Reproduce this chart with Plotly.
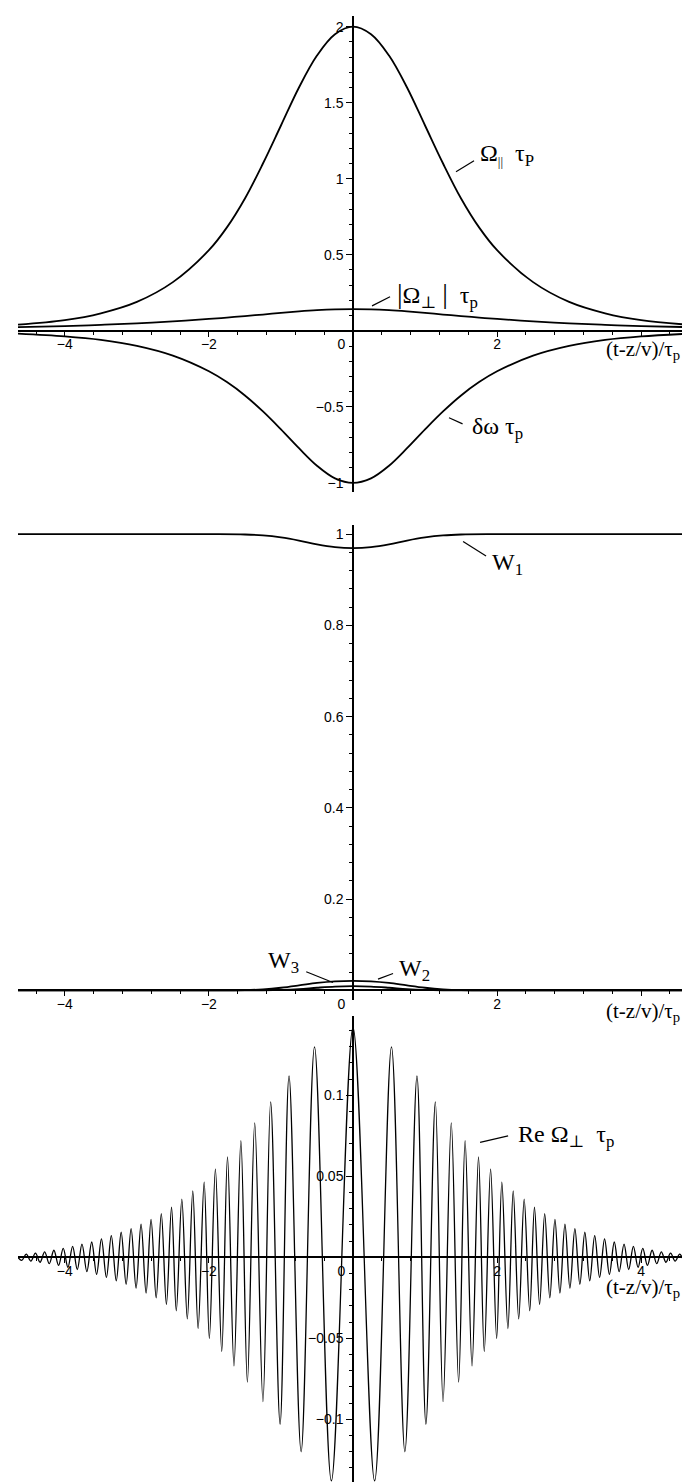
import plotly.graph_objects as go

# ---------------- data (curves are even in t) ----------------
# Panel 1: sampled values for t >= 0
t1 = [0.0, 0.25, 0.5, 0.75, 1.0, 1.25, 1.5, 1.75, 2.0, 2.5, 3.0, 3.5, 4.0, 4.65]
omega_par = [2.0, 1.95, 1.81, 1.60, 1.35, 1.10, 0.87, 0.68, 0.53, 0.32, 0.19, 0.115, 0.07, 0.04]
omega_perp_abs = [0.142, 0.141, 0.136, 0.128, 0.118, 0.107, 0.097, 0.087, 0.078, 0.062, 0.049, 0.039, 0.031, 0.024]
delta_omega = [-1.0, -0.97, -0.887, -0.772, -0.648, -0.53, -0.425, -0.337, -0.266, -0.163, -0.099, -0.060, -0.037, -0.019]

# Panel 2: occupation probabilities, t >= 0
t2 = [0.0, 0.25, 0.5, 0.75, 1.0, 1.25, 1.5, 2.0, 3.0, 4.65]
w1 = [0.9695, 0.9715, 0.9775, 0.986, 0.9928, 0.9972, 0.9992, 0.9999, 1.0, 1.0]
w2 = [0.021, 0.020, 0.0165, 0.011, 0.006, 0.0025, 0.0008, 0.0001, 0.0, 0.0]
w3 = [0.0095, 0.0085, 0.006, 0.003, 0.0012, 0.0003, 0.0, 0.0, 0.0, 0.0]

# Panel 3: Re(Omega_perp) tau_p, alternating maxima / minima for t >= 0
re_t = [0.000, 0.300, 0.534, 0.720, 0.888, 1.012, 1.143, 1.250, 1.364, 1.466,
        1.556, 1.652, 1.742, 1.822, 1.910, 1.994, 2.066, 2.150, 2.224, 2.300,
        2.376, 2.453, 2.519, 2.590, 2.661, 2.732, 2.803, 2.872, 2.942, 3.011,
        3.080, 3.149, 3.218, 3.286, 3.355, 3.423, 3.492, 3.559, 3.627, 3.694,
        3.762, 3.827, 3.892, 3.957, 4.022, 4.087, 4.152, 4.216, 4.280, 4.344,
        4.408, 4.471, 4.535, 4.598, 4.650]
re_v = [0.142, -0.138, 0.130, -0.120, 0.112, -0.103, 0.096, -0.089, 0.083, -0.077,
        0.072, -0.067, 0.062, -0.058, 0.0545, -0.050, 0.0465, -0.044, 0.041, -0.038,
        0.036, -0.033, 0.031, -0.029, 0.027, -0.025, 0.0235, -0.022, 0.0205, -0.019,
        0.0177, -0.0166, 0.0155, -0.0145, 0.0134, -0.0124, 0.0114, -0.0105, 0.0095, -0.0088,
        0.0082, -0.0075, 0.0068, -0.0061, 0.0055, -0.005, 0.0044, -0.0039, 0.0034, -0.003,
        0.0026, -0.0023, 0.002, -0.0018, 0.0]

x_ticks = [-4, -2, 0, 2, 4]
x_title = "(t-z/v)/τ<sub>p</sub>"


def mirror(t, v):
    """Even function: reflect the t >= 0 samples to t < 0."""
    tt = [-a for a in reversed(t[1:])] + list(t)
    vv = list(reversed(v[1:])) + list(v)
    return tt, vv


# ---------------- layout geometry ----------------
W, H = 690, 1482
XR = [-4.65, 4.65]
XDOM = [10 / W, 680 / W]
panels = [
    dict(yr=[-1.06, 2.07], top=8, bottom=484, title_off=19,
         yt=[-1, -0.5, 0.5, 1, 1.5, 2], ytt=["−1", "−0.5", "0.5", "1", "1.5", "2"], ydt=0.1,
         xtt=["−4", "−2", "0\u2007\u2007\u2007", "2", ""]),
    dict(yr=[-0.02, 1.02], top=517, bottom=991.6, title_off=22,
         yt=[0.2, 0.4, 0.6, 0.8, 1], ytt=["0.2", "0.4", "0.6", "0.8", "1"], ydt=0.04,
         xtt=["−4", "−2", "0\u2007\u2007\u2007", "2", ""]),
    dict(yr=[-0.1436, 0.149], top=1008, bottom=1482, title_off=31,
         yt=[-0.1, -0.05, 0.05, 0.1], ytt=["−0.1", "−0.05", "0.05", "0.1"], ydt=0.01,
         xtt=["−4", "−2", "0\u2007\u2007\u2007", "2", "4"]),
]

fig = go.Figure()
LINE = dict(color="black", width=1.8)

# panel 1 traces
for vals in (omega_par, omega_perp_abs, delta_omega):
    tt, vv = mirror(t1, vals)
    fig.add_trace(go.Scatter(x=tt, y=vv, mode="lines", line=dict(shape="spline", **LINE),
                             xaxis="x", yaxis="y", hoverinfo="skip"))
# panel 2 traces
for vals in (w1, w2, w3):
    tt, vv = mirror(t2, vals)
    fig.add_trace(go.Scatter(x=tt, y=vv, mode="lines", line=dict(shape="spline", **LINE),
                             xaxis="x2", yaxis="y2", hoverinfo="skip"))
# panel 3 trace
tt, vv = mirror(re_t, re_v)
fig.add_trace(go.Scatter(x=tt, y=vv, mode="lines",
                         line=dict(shape="spline", color="black", width=1.3),
                         xaxis="x3", yaxis="y3", hoverinfo="skip"))

TICKFONT = dict(family="Liberation Sans, Arial, sans-serif", size=14, color="black")
SERIF = "Liberation Serif, DejaVu Serif, serif"

layout = dict(width=W, height=H, margin=dict(l=0, r=0, t=0, b=0),
              paper_bgcolor="white", plot_bgcolor="white", showlegend=False)
annotations = []
for i, p in enumerate(panels, start=1):
    sfx = "" if i == 1 else str(i)
    d0 = max(0.0, 1 - p["bottom"] / H)
    d1 = 1 - p["top"] / H
    y0, y1 = p["yr"]
    xpos = d0 + (0 - y0) / (y1 - y0) * (d1 - d0)
    ypos = XDOM[0] + (0 - XR[0]) / (XR[1] - XR[0]) * (XDOM[1] - XDOM[0])
    layout["xaxis" + sfx] = dict(
        range=XR, domain=XDOM, anchor="free", position=xpos, side="bottom",
        showline=True, linecolor="black", linewidth=1.5,
        ticks="outside", ticklen=5, tickwidth=1.2, tickcolor="black",
        tickmode="array", tickvals=x_ticks, ticktext=p["xtt"], tickfont=TICKFONT,
        ticklabelstandoff=-4,
        showgrid=False, zeroline=False, fixedrange=True,
        minor=dict(tickmode="linear", tick0=0, dtick=0.4, ticks="outside",
                   ticklen=3, tickwidth=1, tickcolor="black", showgrid=False),
    )
    layout["yaxis" + sfx] = dict(
        range=p["yr"], domain=[d0, d1], anchor="free", position=ypos, side="left",
        showline=True, linecolor="black", linewidth=1.5,
        ticks="outside", ticklen=6, tickwidth=1.2, tickcolor="black",
        tickmode="array", tickvals=p["yt"], ticktext=p["ytt"], tickfont=TICKFONT,
        showgrid=False, zeroline=False, fixedrange=True,
        minor=dict(tickmode="linear", tick0=0, dtick=p["ydt"], ticks="outside",
                   ticklen=3.5, tickwidth=1, tickcolor="black", showgrid=False),
    )
    annotations.append(dict(xref="paper", yref="paper", x=596 / W, y=xpos - p["title_off"] / H,
                            xanchor="left", yanchor="middle", showarrow=False,
                            text=x_title, font=dict(family=SERIF, size=21, color="black")))

LBL = dict(family=SERIF, size=24, color="black")
PAR = "<span style='font-size:13px'>||</span>"
BAR = "<span style='font-size:28px'>|</span>"
labels = [
    ("x", "y", 1.74, 1.158, "left", "Ω<sub>" + PAR + "</sub>  τ<sub>P</sub>"),
    ("x", "y", 0.58, 0.237, "left", BAR + "Ω<sub>⊥</sub> " + BAR + "  τ<sub>p</sub>"),
    ("x", "y", 1.63, -0.638, "left", "δω τ<sub>p</sub>"),
    ("x2", "y2", 1.90, 0.934, "left", "W<sub>1</sub>"),
    ("x2", "y2", -0.96, 0.063, "center", "W<sub>3</sub>"),
    ("x2", "y2", 0.85, 0.0445, "center", "W<sub>2</sub>"),
    ("x3", "y3", 2.26, 0.0747, "left", "Re Ω<sub>⊥</sub>  τ<sub>p</sub>"),
]
for xr_, yr_, x, y, anc, txt in labels:
    annotations.append(dict(xref=xr_, yref=yr_, x=x, y=y, xanchor=anc, yanchor="middle",
                            showarrow=False, text=txt, font=LBL))

leaders = [
    ("x", "y", 1.43, 1.046, 1.68, 1.118),
    ("x", "y", 0.514, 0.224, 0.264, 0.164),
    ("x", "y", 1.333, -0.572, 1.521, -0.612),
    ("x2", "y2", 1.528, 0.984, 1.847, 0.952),
    ("x2", "y2", -0.649, 0.041, -0.278, 0.0175),
    ("x2", "y2", 0.347, 0.0248, 0.556, 0.0373),
    ("x3", "y3", 1.764, 0.071, 2.153, 0.075),
]
shapes = [dict(type="line", xref=a, yref=b, x0=x0, y0=y0, x1=x1, y1=y1,
               line=dict(color="black", width=1.2)) for a, b, x0, y0, x1, y1 in leaders]

layout["annotations"] = annotations
layout["shapes"] = shapes
fig.update_layout(**layout)
fig.write_html("out.html")
